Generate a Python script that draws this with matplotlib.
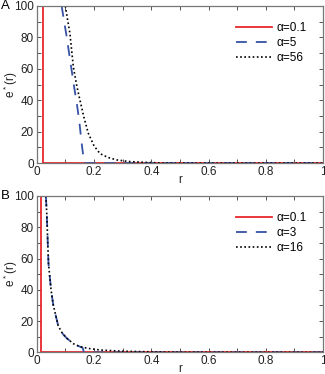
import matplotlib.pyplot as plt
from matplotlib.ticker import MultipleLocator

plt.rcParams['font.family'] = ['Liberation Sans', 'DejaVu Sans']
plt.rcParams['mathtext.fontset'] = 'custom'
plt.rcParams['mathtext.rm'] = 'Liberation Sans'

# panel A
a_labels = ['\u03b1=0.1', '\u03b1=5', '\u03b1=56']
a_red_r = [0.021, 0.021, 1.0]
a_red_e = [100, 0, 0]
a_blue_r = [0.087, 0.095, 0.105, 0.113, 0.122, 0.131, 0.14, 0.149, 0.157, 0.163, 0.167, 1.0]
a_blue_e = [100, 91, 80, 70, 59, 48, 38, 26, 12.5, 4, 0, 0]
a_black_r = [0.1, 0.108, 0.116, 0.128, 0.14, 0.151, 0.165, 0.18, 0.2, 0.221, 0.25, 0.28, 0.32, 0.37, 0.45, 1.0]
a_black_e = [100, 91, 82.5, 61, 49, 40, 29, 19, 11, 6, 3.5, 2, 1, 0.5, 0, 0]

# panel B
b_labels = ['\u03b1=0.1', '\u03b1=3', '\u03b1=16']
b_red_r = [0.014, 0.014, 1.0]
b_red_e = [100, 0, 0]
b_blue_r = [0.032, 0.035, 0.041, 0.05, 0.058, 0.075, 0.09, 0.105, 0.128, 0.151, 0.16, 0.165, 1.0]
b_blue_e = [100, 89, 57, 40, 30, 17, 12, 9, 5.5, 3.6, 3, 0, 0]
b_black_r = [0.032, 0.035, 0.041, 0.05, 0.058, 0.075, 0.09, 0.105, 0.128, 0.151, 0.18, 0.22, 0.3, 0.4, 0.5, 1.0]
b_black_e = [100, 89, 57, 40, 30, 17, 12, 9, 5.5, 3.6, 2.5, 1.5, 0.7, 0.3, 0.1, 0]

RED = '#e8262a'
BLUE = '#3552a6'


def panel(ax, letter, labels, red, blue, black):
    ax.plot(*red, color=RED, lw=1.3, label=labels[0])
    ax.plot(*blue, color=BLUE, lw=1.3, dashes=(6, 5), label=labels[1])
    ax.plot(*black, color='black', lw=1.2, dashes=(1, 1.5), label=labels[2])
    ax.set_xlim(0, 1)
    ax.set_ylim(0, 100)
    ax.xaxis.set_major_locator(MultipleLocator(0.2))
    ax.xaxis.set_minor_locator(MultipleLocator(0.1))
    ax.yaxis.set_major_locator(MultipleLocator(20))
    ax.yaxis.set_minor_locator(MultipleLocator(10))
    ax.xaxis.set_major_formatter(plt.FuncFormatter(lambda v, p: f'{v:g}'))
    ax.tick_params(which='both', direction='in', top=True, right=True,
                   length=3, width=0.7, color='#555', labelsize=8.5,
                   labelcolor='#222', pad=2)
    for s in ax.spines.values():
        s.set_color('#777')
        s.set_linewidth(0.9)
    ax.set_xlabel('r', fontsize=8.5, labelpad=-3, color='#222')
    ax.set_ylabel('e$^*$(r)', fontsize=8.5, color='#222')
    ax.yaxis.set_label_coords(-0.06, 0.5)
    ax.legend(loc='upper right', frameon=False, fontsize=8.5, handlelength=3.0,
              handletextpad=0.4, labelspacing=0.25, bbox_to_anchor=(0.98, 0.965))
    ax.text(-0.125, 1.0, letter, transform=ax.transAxes, fontsize=9.5,
            va='center', ha='left')


fig = plt.figure(figsize=(3.25, 3.74), dpi=100)
ax1 = fig.add_axes([0.113, 0.564, 0.881, 0.42])
ax2 = fig.add_axes([0.113, 0.058, 0.881, 0.418])
panel(ax1, 'A', a_labels, (a_red_r, a_red_e), (a_blue_r, a_blue_e), (a_black_r, a_black_e))
panel(ax2, 'B', b_labels, (b_red_r, b_red_e), (b_blue_r, b_blue_e), (b_black_r, b_black_e))

fig.savefig('out.png', dpi=100)
